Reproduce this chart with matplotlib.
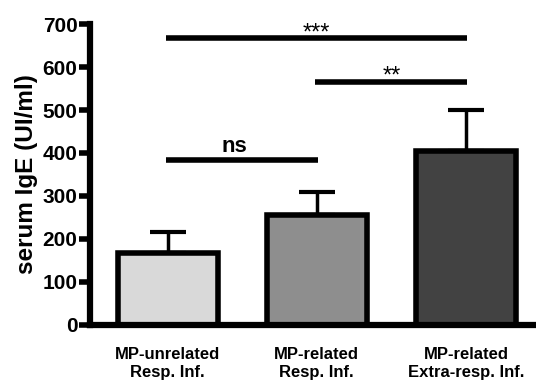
import matplotlib
matplotlib.use("Agg")
import matplotlib.pyplot as plt

plt.rcParams['font.family'] = ['Liberation Sans', 'DejaVu Sans']

# data
groups = ['MP-unrelated\nResp. Inf.', 'MP-related\nResp. Inf.', 'MP-related\nExtra-resp. Inf.']
means = [168, 255, 405]
sem = [48, 55, 95]
colors = ['#d9d9d9', '#8e8e8e', '#424242']

# significance brackets: (left group, right group, height, label)
brackets = [(0, 1, 383, 'ns'), (1, 2, 565, '**'), (0, 2, 667, '***')]

fig = plt.figure(figsize=(5.36, 3.81), dpi=100)
ax = fig.add_axes([0.168, 0.147, 0.832, 0.79])

x = list(range(len(groups)))
ax.bar(x, means, width=0.67, color=colors, edgecolor='black', linewidth=4, zorder=2)
ax.errorbar(x, means, yerr=[[0] * len(sem), sem], fmt='none', ecolor='black',
            elinewidth=2.5, capsize=13, capthick=3, zorder=1)

for left, right, h, lab in brackets:
    ax.plot([left - 0.01, right + 0.01], [h, h], color='black', lw=4, solid_capstyle='butt')
    if lab == 'ns':
        ax.text((left + right) / 2 - 0.05, h + 8, lab, ha='center', va='bottom',
                fontsize=16, fontweight='bold')
    else:
        ax.text((left + right) / 2, h - 2, lab, ha='center', va='baseline', fontsize=17)

ax.set_xlim(-0.52, 2.47)
ax.set_ylim(0, 700)
ax.set_yticks(range(0, 701, 100))
ax.set_xticks(x)
ax.set_xticklabels(groups, fontsize=12, fontweight='bold', linespacing=1.2)
ax.tick_params(axis='x', length=0, pad=16)
ax.tick_params(axis='y', width=4, length=8, labelsize=15, pad=1)
for lbl in ax.get_yticklabels():
    lbl.set_fontweight('bold')

ax.set_ylabel('serum IgE (UI/ml)', fontsize=17.5, fontweight='bold', labelpad=3)
ax.spines['top'].set_visible(False)
ax.spines['right'].set_visible(False)
ax.spines['left'].set_linewidth(4.5)
ax.spines['bottom'].set_linewidth(4.5)

fig.savefig('out.png', dpi=100)
